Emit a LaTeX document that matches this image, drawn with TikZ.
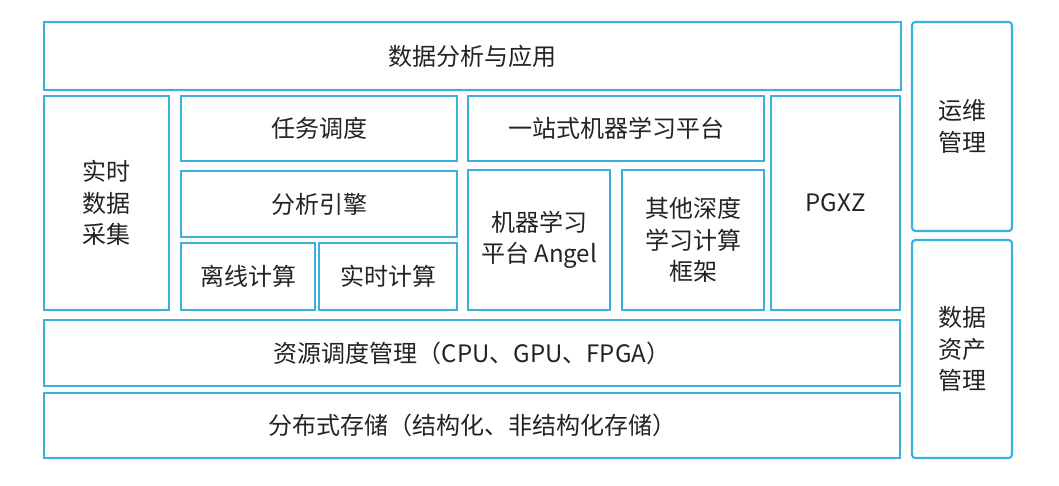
\documentclass[tikz,border=0pt]{standalone}
\usepackage{fontspec}
\setmainfont{Noto Sans CJK SC}
\definecolor{boxblue}{RGB}{59,175,222}
\definecolor{txtgray}{RGB}{35,35,35}

\begin{document}
\begin{tikzpicture}
	[
	x=0.75pt, y=-0.75pt,
	box/.style = {draw=boxblue, line width=1.6pt, inner sep=0pt, align=center,
		text=txtgray, font=\fontsize{18}{23.5}\selectfont},
	side/.style = {box, rounded corners=2.5pt}
	]
	\useasboundingbox (0,0) rectangle (1059,485);

	% top layer
	\node[box, minimum width=642.75pt, minimum height=51pt] (app) at (472.5,56) {数据分析与应用};

	% middle layer
	\node[box, minimum width=93.75pt, minimum height=160.5pt] (collect) at (106.5,203) {实时\\数据\\采集};
	\node[box, minimum width=207pt, minimum height=48.75pt] (sched) at (319,128.5) {任务调度};
	\node[box, minimum width=207pt, minimum height=49.5pt] (engine) at (319,204) {分析引擎};
	\node[box, minimum width=100.5pt, minimum height=50.25pt] (offline) at (248,276.5) {离线计算};
	\node[box, minimum width=103.5pt, minimum height=50.25pt] (realtime) at (388,276.5) {实时计算};
	\node[box, minimum width=222pt, minimum height=48.75pt] (mlplat) at (616,128.5) {一站式机器学习平台};
	\node[box, minimum width=106.5pt, minimum height=105pt] (angel) at (539,240) {机器学习\\平台 Angel};
	\node[box, minimum width=106.5pt, minimum height=105pt] (deep) at (693,240) {其他深度\\学习计算\\框架};
	\node[box, minimum width=96.75pt, minimum height=160.5pt] (pgxz) at (835.5,203) {PGXZ};

	% bottom layers
	\node[box, minimum width=642pt, minimum height=49.5pt] (resource) at (472,353) {资源调度管理（CPU、GPU、FPGA）};
	\node[box, minimum width=642pt, minimum height=48.75pt] (storage) at (472,425.5) {分布式存储（结构化、非结构化存储）};

	% right column
	\node[side, minimum width=75pt, minimum height=156.75pt] (ops) at (962,126.5) {运维\\管理};
	\node[side, minimum width=75pt, minimum height=163.5pt] (asset) at (962,349) {数据\\资产\\管理};
\end{tikzpicture}
\end{document}
